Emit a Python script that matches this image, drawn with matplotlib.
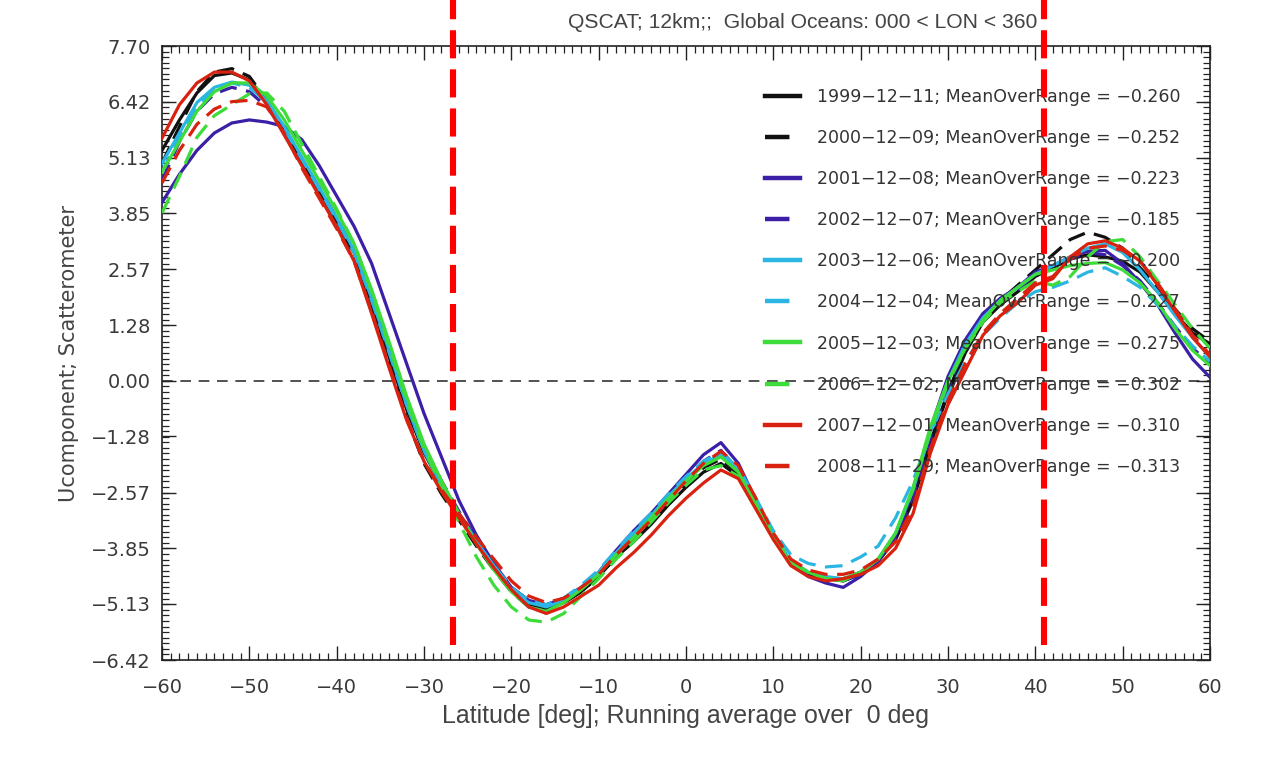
import numpy as np
import matplotlib.pyplot as plt
from matplotlib.ticker import FixedLocator, MultipleLocator

# latitude grid (deg)
lat = np.arange(-60, 61, 2)

u_1999 = [5.30, 6.00, 6.62, 7.02, 7.08, 6.92, 6.45, 5.72, 5.02, 4.35, 3.65, 2.95, 1.75, 0.55, -0.65,
          -1.65, -2.40, -3.05, -3.70, -4.30, -4.80, -5.15, -5.25, -5.10, -4.85, -4.50, -4.05, -3.70,
          -3.30, -2.85, -2.45, -2.10, -1.90, -2.20, -2.90, -3.60, -4.20, -4.45, -4.55, -4.60, -4.45,
          -4.15, -3.65, -2.75, -1.45, -0.30, 0.65, 1.35, 1.75, 2.05, 2.40, 2.60, 2.80, 2.90, 2.85,
          2.75, 2.50, 2.05, 1.55, 1.10, 0.85]
u_2000 = [5.00, 5.85, 6.65, 7.10, 7.18, 7.00, 6.45, 5.75, 5.00, 4.30, 3.55, 2.80, 1.65, 0.40, -0.85,
          -1.90, -2.60, -3.20, -3.80, -4.35, -4.85, -5.20, -5.25, -5.10, -4.85, -4.50, -4.05, -3.65,
          -3.25, -2.80, -2.40, -2.00, -1.80, -2.15, -2.85, -3.60, -4.20, -4.45, -4.55, -4.55, -4.40,
          -4.10, -3.60, -2.70, -1.40, -0.25, 0.70, 1.40, 1.85, 2.20, 2.55, 2.90, 3.25, 3.42, 3.30,
          3.05, 2.60, 2.15, 1.65, 1.20, 0.90]
u_2001 = [4.10, 4.75, 5.30, 5.70, 5.93, 6.00, 5.95, 5.85, 5.55, 4.95, 4.25, 3.55, 2.70, 1.55, 0.40,
          -0.75, -1.75, -2.75, -3.55, -4.20, -4.75, -5.05, -5.15, -5.00, -4.75, -4.40, -3.90, -3.45,
          -3.05, -2.60, -2.15, -1.70, -1.42, -1.90, -2.75, -3.55, -4.20, -4.50, -4.65, -4.75, -4.50,
          -4.15, -3.55, -2.55, -1.10, 0.10, 0.95, 1.55, 1.90, 2.15, 2.50, 2.65, 2.85, 2.98, 3.00,
          2.70, 2.25, 1.75, 1.10, 0.50, 0.08]
u_2002 = [4.60, 5.50, 6.20, 6.60, 6.75, 6.65, 6.30, 5.75, 5.10, 4.45, 3.75, 3.00, 1.95, 0.75, -0.45,
          -1.50, -2.30, -3.00, -3.65, -4.25, -4.75, -5.05, -5.15, -5.00, -4.75, -4.40, -3.95, -3.50,
          -3.10, -2.65, -2.25, -1.85, -1.60, -2.05, -2.80, -3.55, -4.15, -4.40, -4.55, -4.60, -4.45,
          -4.15, -3.60, -2.65, -1.30, -0.15, 0.80, 1.45, 1.85, 2.10, 2.45, 2.65, 2.80, 2.95, 2.90,
          2.65, 2.30, 1.80, 1.25, 0.75, 0.40]
u_2003 = [5.00, 5.70, 6.40, 6.75, 6.87, 6.80, 6.45, 5.85, 5.15, 4.45, 3.75, 3.00, 1.90, 0.70, -0.55,
          -1.60, -2.40, -3.05, -3.70, -4.25, -4.80, -5.10, -5.20, -5.05, -4.75, -4.40, -3.95, -3.50,
          -3.10, -2.65, -2.25, -1.90, -1.70, -2.05, -2.80, -3.55, -4.15, -4.40, -4.50, -4.55, -4.40,
          -4.10, -3.50, -2.50, -1.15, 0.00, 0.85, 1.45, 1.85, 2.15, 2.45, 2.65, 2.85, 3.05, 3.15,
          2.95, 2.55, 2.05, 1.50, 1.00, 0.55]
u_2004 = [4.80, 5.60, 6.30, 6.70, 6.85, 6.75, 6.40, 5.80, 5.10, 4.40, 3.70, 2.95, 1.85, 0.65, -0.55,
          -1.60, -2.40, -3.05, -3.70, -4.25, -4.75, -5.05, -5.15, -5.00, -4.70, -4.35, -3.90, -3.45,
          -3.05, -2.60, -2.20, -1.85, -1.65, -2.00, -2.70, -3.45, -4.00, -4.20, -4.28, -4.25, -4.05,
          -3.80, -3.15, -2.30, -1.20, -0.30, 0.45, 1.05, 1.45, 1.80, 2.05, 2.15, 2.30, 2.50, 2.60,
          2.40, 2.15, 1.75, 1.25, 0.80, 0.45]
u_2005 = [4.80, 5.50, 6.20, 6.65, 6.85, 6.85, 6.55, 6.00, 5.30, 4.60, 3.90, 3.15, 2.10, 0.90, -0.35,
          -1.45, -2.30, -3.05, -3.75, -4.35, -4.85, -5.20, -5.30, -5.10, -4.80, -4.45, -4.00, -3.60,
          -3.15, -2.70, -2.30, -1.95, -1.75, -2.10, -2.85, -3.60, -4.20, -4.40, -4.55, -4.60, -4.40,
          -4.10, -3.50, -2.45, -1.05, 0.00, 0.75, 1.40, 1.85, 2.15, 2.45, 2.55, 2.65, 2.70, 2.72,
          2.55, 2.25, 1.80, 1.20, 0.70, 0.35]
u_2006 = [3.86, 4.70, 5.60, 6.10, 6.35, 6.60, 6.62, 6.20, 5.45, 4.70, 3.95, 3.15, 2.05, 0.80, -0.45,
          -1.55, -2.45, -3.25, -4.05, -4.70, -5.20, -5.50, -5.55, -5.35, -4.95, -4.55, -4.10, -3.70,
          -3.25, -2.80, -2.40, -2.05, -1.95, -2.20, -2.80, -3.55, -4.15, -4.40, -4.55, -4.55, -4.40,
          -4.10, -3.50, -2.50, -1.15, -0.05, 0.75, 1.35, 1.80, 2.05, 2.30, 2.20, 2.40, 2.85, 3.20,
          3.25, 2.85, 2.30, 1.75, 1.20, 0.75]
u_2007 = [5.58, 6.35, 6.85, 7.10, 7.10, 6.90, 6.35, 5.65, 4.95, 4.25, 3.55, 2.75, 1.55, 0.30, -0.90,
          -1.85, -2.55, -3.15, -3.75, -4.30, -4.80, -5.20, -5.35, -5.20, -4.95, -4.70, -4.30, -3.95,
          -3.55, -3.10, -2.70, -2.35, -2.05, -2.25, -2.95, -3.65, -4.25, -4.50, -4.60, -4.55, -4.45,
          -4.25, -3.85, -3.05, -1.65, -0.55, 0.25, 1.05, 1.50, 1.80, 2.20, 2.35, 2.85, 3.15, 3.22,
          3.05, 2.75, 2.20, 1.60, 1.00, 0.55]
u_2008 = [4.55, 5.30, 5.90, 6.25, 6.42, 6.45, 6.30, 5.70, 4.90, 4.20, 3.50, 2.75, 1.60, 0.35, -0.85,
          -1.85, -2.50, -3.05, -3.60, -4.10, -4.60, -4.95, -5.10, -5.00, -4.75, -4.45, -4.00, -3.60,
          -3.20, -2.75, -2.30, -1.90, -1.62, -1.95, -2.70, -3.50, -4.10, -4.35, -4.45, -4.45, -4.35,
          -4.10, -3.70, -2.90, -1.55, -0.45, 0.40, 1.10, 1.55, 1.90, 2.25, 2.40, 2.80, 3.05, 3.10,
          3.00, 2.75, 2.25, 1.65, 1.05, 0.60]

dates = ["1999-12-11", "2000-12-09", "2001-12-08", "2002-12-07", "2003-12-06",
         "2004-12-04", "2005-12-03", "2006-12-02", "2007-12-01", "2008-11-29"]
mean_over_range = [-0.260, -0.252, -0.223, -0.185, -0.200, -0.227, -0.275, -0.302, -0.310, -0.313]
series = [u_1999, u_2000, u_2001, u_2002, u_2003, u_2004, u_2005, u_2006, u_2007, u_2008]

ytick_vals = [-6.42, -5.13, -3.85, -2.57, -1.28, 0.00, 1.28, 2.57, 3.85, 5.13, 6.42, 7.70]
marked_lats = [-26.7, 41.0]

colors = ["#111111", "#111111", "#3b1fa6", "#3b1fa6", "#2bb5e3",
          "#2bb5e3", "#3ddc3a", "#3ddc3a", "#d8220f", "#d8220f"]

fig = plt.figure(figsize=(12.81, 7.63), dpi=100)
ax = fig.add_axes([162 / 1281, 1 - 660 / 763, 1048 / 1281, 614 / 763])

for i, vals in enumerate(series):
    label = (dates[i] + "; MeanOverRange = " + "%.3f" % mean_over_range[i]).replace("-", "\u2212")
    line, = ax.plot(lat, vals, color=colors[i], lw=2.3, label=label, zorder=3 + i * 0.1)
    if i % 2 == 1:
        line.set_dashes((5.5, 3.0))
        line.set_dash_capstyle("butt")

ax.axhline(0, color="#222222", lw=1.1, dashes=(7, 5), zorder=2)

for x in marked_lats:
    ax.axvline(x, ymin=0.024, ymax=1.08, color="#ff0000", lw=4.4, dashes=(4.6, 1.8),
               clip_on=False, zorder=10)

ax.set_xlim(-60, 60)
ax.set_ylim(-6.42, 7.70)

ax.xaxis.set_major_locator(MultipleLocator(10))
ax.xaxis.set_minor_locator(MultipleLocator(1))
ax.yaxis.set_major_locator(FixedLocator(ytick_vals))
ax.yaxis.set_minor_locator(FixedLocator(np.linspace(-6.42, 7.70, 111)))
ax.set_yticklabels([("%.2f" % v).replace("-", "\u2212") for v in ytick_vals])
ax.set_xticks(np.arange(-60, 61, 10))
ax.set_xticklabels([str(v).replace("-", "\u2212") for v in range(-60, 61, 10)])

ax.tick_params(which="both", direction="in", top=True, right=True, colors="#222222",
               labelcolor="#3a3a3a", labelsize=14)
ax.tick_params(which="major", length=10, width=1.0)
ax.tick_params(which="minor", length=5, width=0.9)
ax.tick_params(axis="x", pad=13)
ax.tick_params(axis="y", pad=8)
for sp in ax.spines.values():
    sp.set_linewidth(1.2)
    sp.set_color("#222222")

fig.text(803 / 1281, 1 - 22 / 763, "QSCAT; 12km;;  Global Oceans: 000 < LON < 360",
         family="Liberation Sans", fontsize=15.2, color="#444444", ha="center", va="center")
ax.set_xlabel("Latitude [deg]; Running average over  0 deg", family="Liberation Sans",
              fontsize=18, color="#444444", labelpad=5)
ax.set_ylabel("Ucomponent; Scatterometer", fontsize=15, color="#444444", labelpad=9)

leg = ax.legend(loc="upper left", bbox_to_anchor=((765 - 162) / 1048, 1 - (88 - 46) / 614),
                frameon=False, fontsize=12.5, borderpad=0, borderaxespad=0,
                handlelength=2.0, handletextpad=1.0, labelspacing=1.33)
for t in leg.get_texts():
    t.set_color("#333333")
for h in leg.get_lines():
    h.set_linewidth(3.2)

fig.savefig("out.png", dpi=100)
